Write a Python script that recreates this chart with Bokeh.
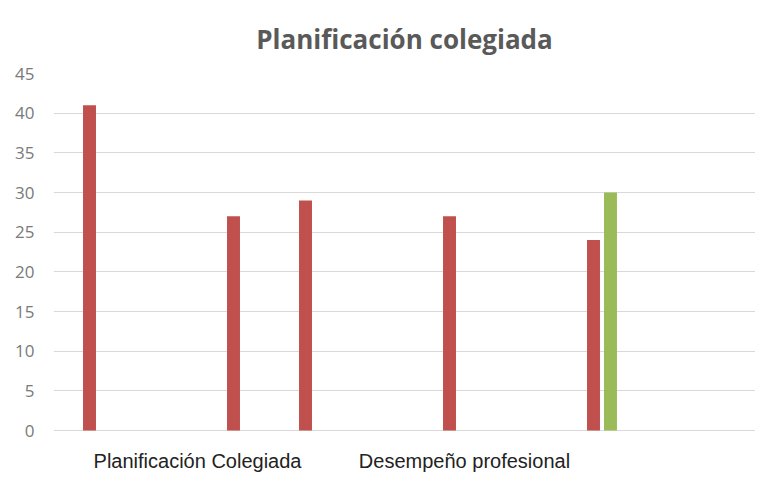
from bokeh.plotting import figure
from bokeh.models import ColumnDataSource, FixedTicker, Range1d, Label
from bokeh.transform import dodge
from bokeh.embed import file_html
from bokeh.resources import INLINE

# data
slots = [0, 1, 2, 3, 4, 5, 6, 7]
serie_roja = [41, 0, 27, 29, 0, 27, 0, 24]
serie_verde = [0, 0, 0, 0, 0, 0, 0, 30]
categorias = ["Planificación Colegiada", "Desempeño profesional"]
y_ticks = [0, 5, 10, 15, 20, 25, 30, 35, 40, 45]

src = ColumnDataSource(dict(x=slots, roja=serie_roja, verde=serie_verde))

p = figure(width=755, height=472, output_backend="svg", toolbar_location=None,
           x_range=Range1d(-0.618, 9.132), y_range=Range1d(-5.294, 45),
           min_border_left=53, min_border_right=0, min_border_top=73, min_border_bottom=0)

p.vbar(x=dodge("x", -0.118, range=p.x_range), top="roja", width=0.18, source=src,
       fill_color="#c0504d", line_color=None)
p.vbar(x=dodge("x", 0.118, range=p.x_range), top="verde", width=0.18, source=src,
       fill_color="#9bbb59", line_color=None)

p.title.text = "Planificación colegiada"
p.title.align = "center"
p.title.text_font = "Open Sans"
p.title.text_font_style = "bold"
p.title.text_font_size = "26px"
p.title.text_color = "#595959"
p.title.offset = -3
p.title.standoff = 33

p.outline_line_color = None
p.background_fill_color = "white"
p.border_fill_color = "white"

p.yaxis.ticker = FixedTicker(ticks=y_ticks)
p.yaxis.axis_line_color = None
p.yaxis.major_tick_line_color = None
p.yaxis.minor_tick_line_color = None
p.yaxis.major_label_text_font = "Open Sans"
p.yaxis.major_label_text_font_size = "17px"
p.yaxis.major_label_text_color = "#7a7a7a"
p.yaxis.major_label_standoff = 13

p.xaxis.visible = False

# category labels under the groups
for txt, xpos in zip(categorias, [1.382, 5.09]):
    p.add_layout(Label(x=xpos, y=-3.8, text=txt, text_align="center",
                       text_baseline="middle", text_font="Liberation Sans",
                       text_font_size="20px", text_color="#222222"))

p.xgrid.grid_line_color = None
p.ygrid.grid_line_color = "#d9d9d9"
p.ygrid.ticker = FixedTicker(ticks=y_ticks)

open("out.html", "w").write(file_html(p, INLINE))
